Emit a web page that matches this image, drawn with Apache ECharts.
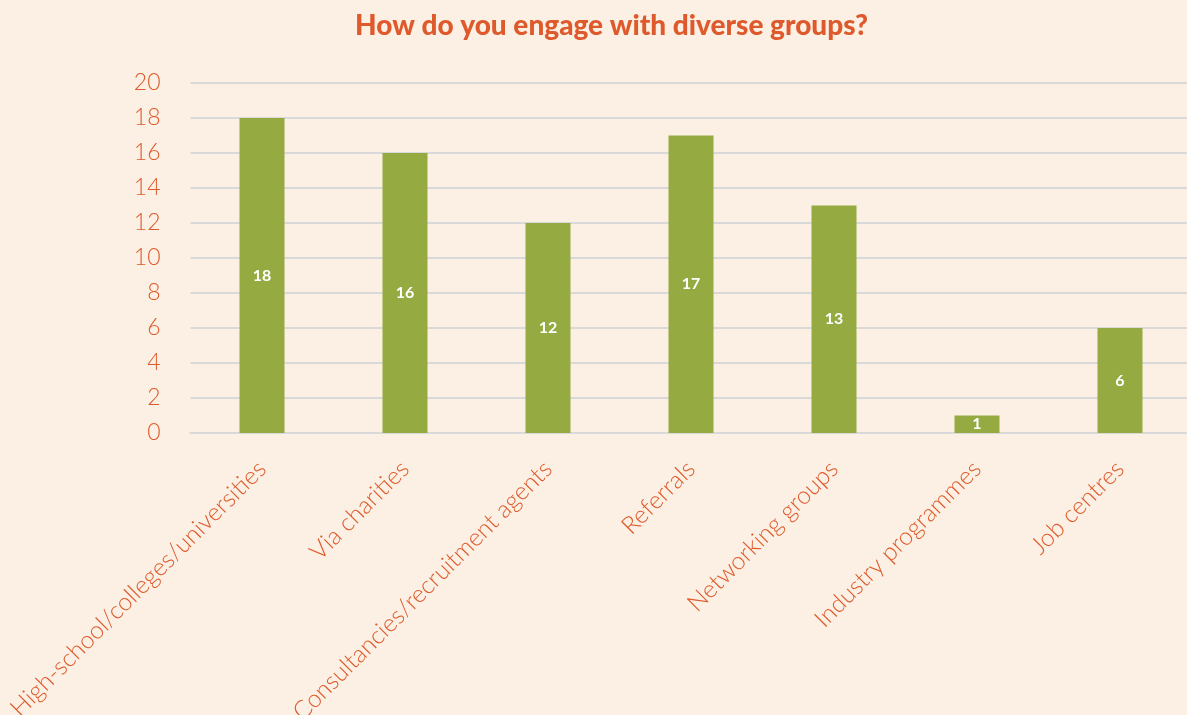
<!DOCTYPE html>
<html><head><meta charset="utf-8">
<script src="https://cdn.jsdelivr.net/npm/echarts@6/dist/echarts.min.js"></script>
<style>html,body{margin:0;padding:0;background:#FBF0E3;overflow:hidden;}#c{width:1195px;height:715px;}</style>
</head><body><div id="c"></div>
<script>
const categories = ["High-school/colleges/universities","Via charities","Consultancies/recruitment agents","Referrals","Networking groups","Industry programmes","Job centres"];
const values = [18,16,12,17,13,1,6];
const yTicks = {min:0,max:20,interval:2};
const chart = echarts.init(document.getElementById('c'));
chart.setOption({
  backgroundColor:'#FBF0E3',
  title:{text:'How do you engage with diverse groups?',left:350,top:7,
    textStyle:{color:'#DE5A2C',fontFamily:'Lato',fontWeight:900,fontSize:28}},
  grid:{left:190.5,width:1001,top:83,height:350,outerBoundsMode:'none',containLabel:false},
  xAxis:{type:'category',data:categories,
    axisLine:{lineStyle:{color:'#D9D9D9',width:2}},axisTick:{show:false},
    axisLabel:{rotate:45,color:'#DE5A2C',fontFamily:'Lato',fontWeight:300,fontSize:24.5,margin:32,interval:0}},
  yAxis:{type:'value',min:yTicks.min,max:yTicks.max,interval:yTicks.interval,
    axisLine:{show:false},axisTick:{show:false},
    splitLine:{lineStyle:{color:'#D9D9D9',width:2}},
    axisLabel:{color:'#DE5A2C',fontFamily:'Lato',fontWeight:300,fontSize:23,margin:30}},
  series:[{type:'bar',data:values,barWidth:45,itemStyle:{color:'#95AB41'},
    label:{show:true,position:'inside',color:'#fff',fontFamily:'Lato',fontWeight:700,fontSize:16}}]
});
</script></body></html>
